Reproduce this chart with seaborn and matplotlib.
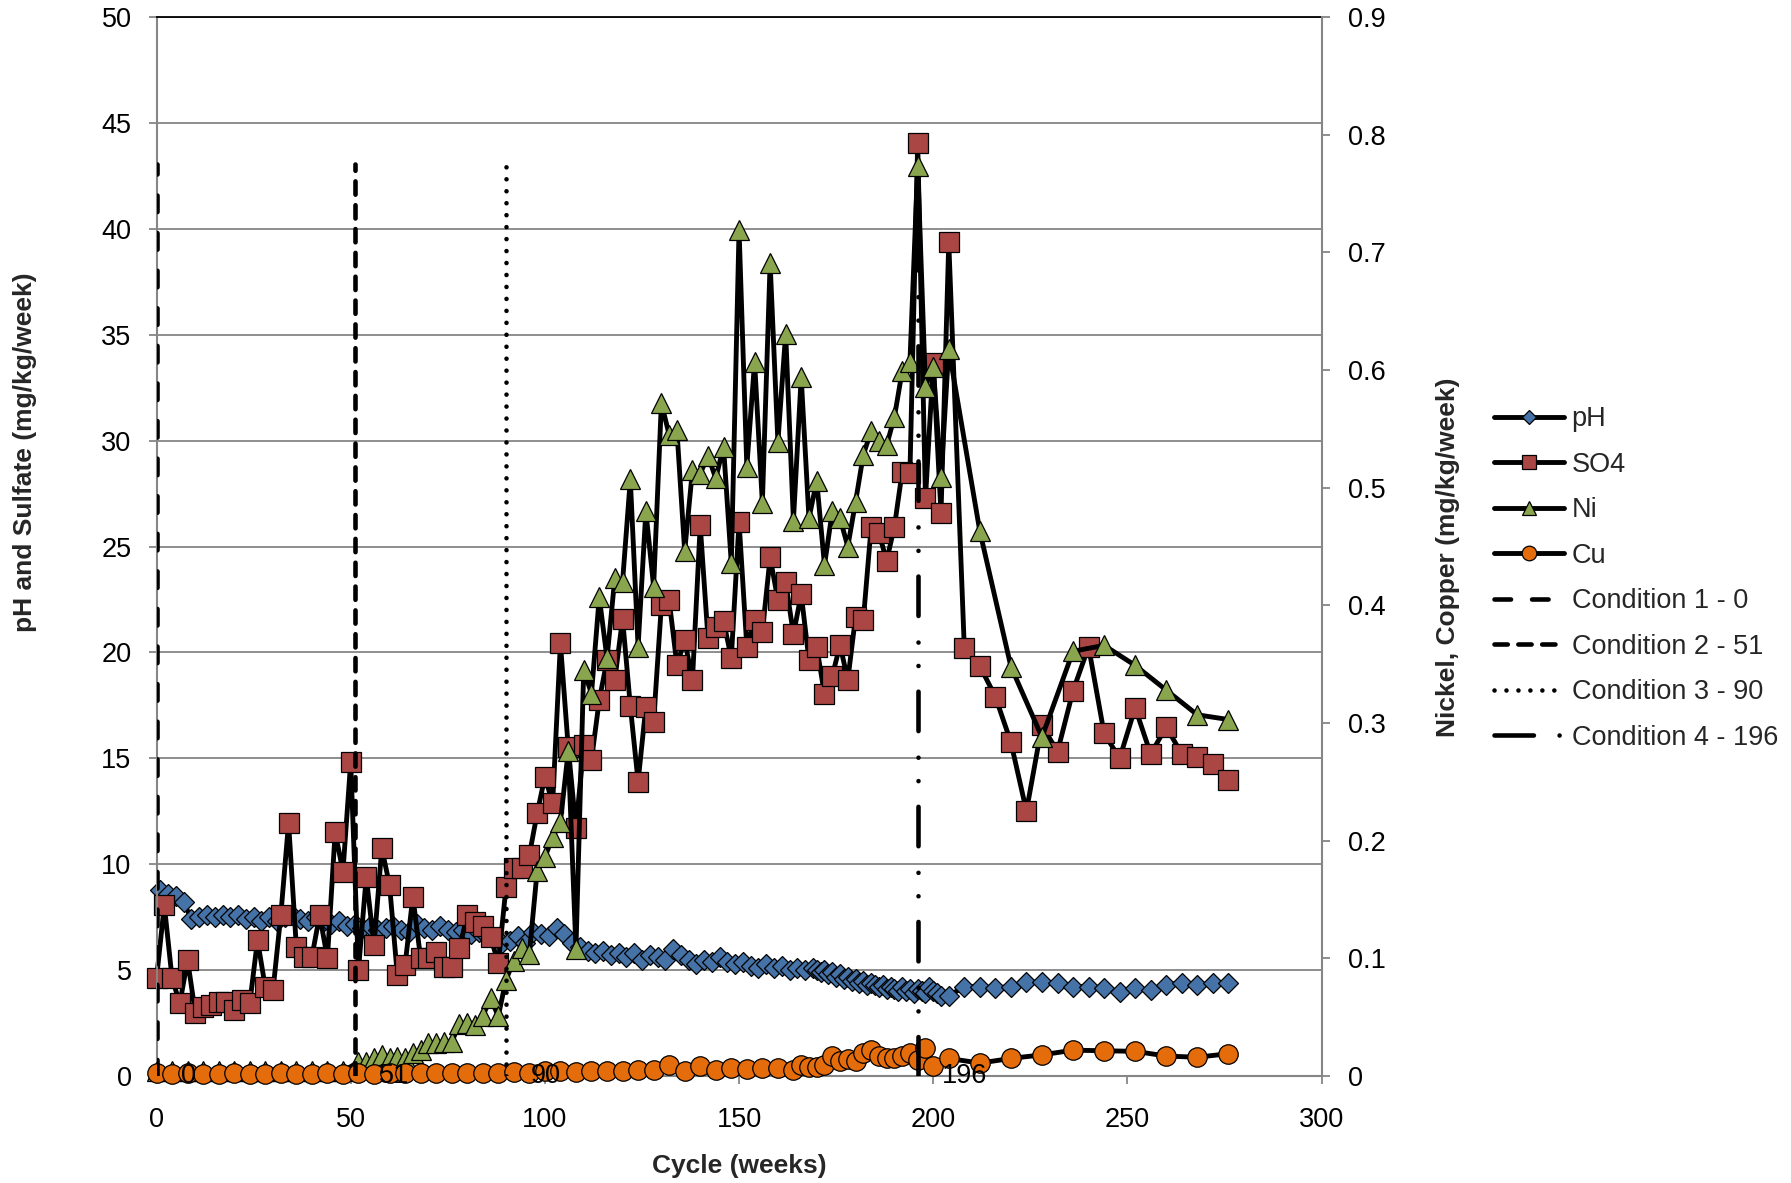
import numpy as np
import pandas as pd
import seaborn as sns
import matplotlib.pyplot as plt

###############################################################################
# Data
###############################################################################
ph_week = [
    1, 3, 5, 7, 9, 11, 13, 15, 17, 19, 21, 23, 25, 27, 29, 31, 33, 35, 37, 39,
    41, 43, 45, 47, 49, 51, 53, 55, 57, 59, 61, 63, 65, 67, 69, 71, 73, 75, 77,
    79, 81, 83, 85, 87, 89, 91, 93, 95, 97, 99, 101, 103, 105, 107, 109, 111,
    113, 115, 117, 119, 121, 123, 125, 127, 129, 131, 133, 135, 137, 139, 141,
    143, 145, 147, 149, 151, 153, 155, 157, 159, 161, 163, 165, 167, 169,
    170, 171, 172, 173, 174, 175, 176, 177, 178, 179, 180, 181, 182, 183, 184,
    185, 186, 187, 188, 189, 190, 191, 192, 193, 194, 195, 196, 197, 198, 199,
    200, 201, 202,
    204, 208, 212, 216, 220, 224, 228, 232, 236, 240, 244, 248, 252, 256, 260,
    264, 268, 272, 276
]
ph_val = [
    8.8, 8.6, 8.5, 8.2, 7.4, 7.5, 7.6, 7.5, 7.6, 7.5, 7.6, 7.4, 7.5, 7.3, 7.5,
    7.3, 7.5, 7.6, 7.4, 7.3, 7.5, 7.3, 7.2, 7.3, 7.1, 7.2, 7.0, 7.1, 6.9, 7.0,
    7.1, 6.9, 6.8, 7.2, 7.0, 6.9, 7.1, 6.9, 6.8, 6.9, 6.7, 6.8, 6.6, 6.5, 6.3,
    6.4, 6.6, 6.3, 6.8, 6.7, 6.6, 7.0, 6.7, 6.3, 6.1, 5.9, 5.8, 5.9, 5.7, 5.8,
    5.6, 5.8, 5.5, 5.7, 5.6, 5.5, 6.0, 5.7, 5.5, 5.3, 5.5, 5.4, 5.6, 5.4, 5.3,
    5.4, 5.2, 5.1, 5.3, 5.1, 5.2, 5.0, 5.1, 5.0, 5.1,
    5.0, 4.9, 5.0, 4.8, 4.9, 4.7, 4.8, 4.6, 4.7, 4.5, 4.6, 4.4, 4.5, 4.3, 4.4,
    4.3, 4.2, 4.3, 4.1, 4.2, 4.1, 4.0, 4.2, 4.0, 4.1, 3.9, 4.1, 4.0, 3.9, 4.2,
    4.0, 3.9, 3.8,
    3.79, 4.22, 4.22, 4.17, 4.22, 4.42, 4.45, 4.37, 4.22, 4.22, 4.14, 3.98,
    4.14, 4.06, 4.30, 4.41, 4.30, 4.37, 4.37
]

so4_week = [
    0, 2, 4, 6, 8, 10, 12, 14, 16, 18, 20, 22, 24, 26, 28, 30, 32, 34, 36, 38,
    40, 42, 44, 46, 48, 50, 52, 54, 56, 58, 60, 62, 64, 66, 68, 70, 72, 74, 76,
    78, 80, 82, 84, 86, 88, 90, 92, 94, 96, 98, 100, 102, 104, 106, 108, 110,
    112, 114, 116, 118, 120, 122, 124, 126, 128, 130, 132, 134, 136, 138, 140,
    142, 144, 146, 148, 150, 152, 154, 156, 158, 160, 162, 164, 166, 168, 170,
    172, 174, 176, 178, 180, 182, 184, 186, 188, 190, 192, 194, 196, 198, 200,
    202, 204,
    208, 212, 216, 220, 224, 228, 232, 236, 240, 244, 248, 252, 256, 260, 264,
    268, 272, 276
]
so4_val = [
    4.61, 8.07, 4.61, 3.43, 5.48, 2.96, 3.27, 3.35, 3.51, 3.51, 3.12, 3.59,
    3.43, 6.42, 4.2, 4.06, 7.6, 11.96, 6.1, 5.63, 5.63, 7.6, 5.56, 11.53, 9.65,
    14.84, 5.0, 9.41, 6.18, 10.75, 9.02, 4.77, 5.24, 8.47, 5.56, 5.56, 5.87,
    5.16, 5.16, 6.03, 7.6, 7.29, 7.08, 6.58, 5.32, 8.94, 9.8, 9.8, 10.43, 12.4,
    14.13, 12.88, 20.43, 15.55, 11.69, 15.63, 14.92, 17.75, 19.64, 18.7, 21.6,
    17.47, 13.9, 17.44, 16.73, 22.24, 22.47, 19.4, 20.59, 18.7, 26.0, 20.67,
    21.21, 21.5, 19.72, 26.17, 20.27, 21.53, 20.98, 24.49, 22.47, 23.34, 20.85,
    22.76, 19.64, 20.27, 18.02, 18.89, 20.35, 18.7, 21.69, 21.53, 25.9, 25.65,
    24.33, 25.93, 28.53, 28.48, 44.07, 27.27, 33.65, 26.57, 39.36,
    20.22, 19.36, 17.91, 15.76, 12.51, 16.57, 15.31, 18.19, 20.27, 16.18, 15.0,
    17.39, 15.2, 16.49, 15.2, 15.05, 14.72, 13.98
]

ni_week = [
    0, 4, 8, 12, 16, 20, 24, 28, 32, 36, 40, 44, 48,
    52, 54, 56, 58, 60, 62, 64, 66, 68, 70, 72, 74, 76, 78, 80, 82, 84, 86, 88,
    90, 92, 94, 96, 98, 100, 102, 104, 106, 108, 110, 112, 114, 116, 118, 120,
    122, 124, 126, 128, 130, 132, 134, 136, 138, 140, 142, 144, 146, 148, 150,
    152, 154, 156, 158, 160, 162, 164, 166, 168, 170, 172, 174, 176, 178, 180,
    182, 184, 186, 188, 190, 192, 194, 196, 198, 200, 202, 204,
    212, 220, 228, 236, 244, 252, 260, 268, 276
]
ni_val = [
    0.004, 0.004, 0.004, 0.004, 0.004, 0.004, 0.004, 0.004, 0.004, 0.004,
    0.004, 0.004, 0.004,
    0.012, 0.012, 0.015, 0.018, 0.015, 0.016, 0.015, 0.020, 0.022, 0.028,
    0.028, 0.029, 0.029, 0.044, 0.045, 0.043, 0.051, 0.066, 0.051, 0.082,
    0.098, 0.109, 0.104, 0.174, 0.186, 0.203, 0.216, 0.276, 0.108, 0.345,
    0.325, 0.407, 0.355, 0.423, 0.420, 0.507, 0.365, 0.480, 0.416, 0.572,
    0.545, 0.549, 0.446, 0.515, 0.512, 0.527, 0.508, 0.535, 0.436, 0.719,
    0.518, 0.607, 0.487, 0.691, 0.539, 0.631, 0.472, 0.594, 0.474, 0.506,
    0.434, 0.480, 0.474, 0.450, 0.488, 0.528, 0.548, 0.540, 0.536, 0.560,
    0.599, 0.607, 0.773, 0.586, 0.603, 0.509, 0.618,
    0.463, 0.348, 0.288, 0.361, 0.366, 0.349, 0.328, 0.307, 0.303
]

cu_week = [
    0, 4, 8, 12, 16, 20, 24, 28, 32, 36, 40, 44, 48, 52, 56, 60, 64, 68, 72,
    76, 80, 84, 88, 92, 96, 100, 104, 108, 112, 116, 120, 124, 128, 132, 136,
    140, 144, 148, 152, 156, 160, 164,
    166, 168, 170, 172, 174, 176, 178, 180, 182, 184, 186, 188, 190, 192, 194,
    196, 198, 200,
    204, 212, 220, 228, 236, 244, 252, 260, 268, 276
]
cu_val = [
    0.0025, 0.002, 0.0025, 0.002, 0.002, 0.0025, 0.002, 0.002, 0.0025, 0.002,
    0.002, 0.0025, 0.002, 0.0025, 0.002, 0.0025, 0.003, 0.003, 0.003, 0.003,
    0.003, 0.003, 0.003, 0.0035, 0.003, 0.0045, 0.0045, 0.0035, 0.004, 0.004,
    0.0045, 0.0055, 0.0055, 0.0096, 0.004, 0.0085, 0.005, 0.0065, 0.006,
    0.0071, 0.0065, 0.0055,
    0.0096, 0.0075, 0.008, 0.0096, 0.017, 0.013, 0.0145, 0.013, 0.0195, 0.022,
    0.017, 0.0156, 0.0156, 0.017, 0.0195, 0.014, 0.024, 0.0085,
    0.015, 0.011, 0.015, 0.018, 0.022, 0.0215, 0.021, 0.017, 0.016, 0.019
]

cond_week = [0, 51, 90, 196]
cond_top = [0.775, 0.775, 0.775, 0.775]
cond_name = ['Condition 1 - 0', 'Condition 2 - 51', 'Condition 3 - 90',
             'Condition 4 - 196']
cond_tag = ['0', '51', '90', '196']
cond_dash = [
    (0, (3.6, 4.6)),
    (0, (2.9, 2.3)),
    (0, (0.01, 2.6)),
    (0, (8.6, 5.6, 0.01, 5.1, 0.01, 5.8)),
]

###############################################################################
# Plot
###############################################################################
sns.set_theme(style='white')
plt.rcParams['font.family'] = ['Liberation Sans', 'DejaVu Sans']
GREY = '#868686'
FS = 19.5

fig = plt.figure(figsize=(17.91, 11.83), dpi=100)
ax = fig.add_axes([0.0874, 0.0904, 0.6505, 0.8952])
ax2 = ax.twinx()

kw = dict(color='black', linewidth=3.5, markeredgecolor='black',
          markeredgewidth=0.9, clip_on=False, legend=False,
          estimator=None, sort=False)
sns.lineplot(x=ph_week, y=ph_val, ax=ax, marker='D', markersize=10,
             markerfacecolor='#4572A7', label='pH', **kw)
sns.lineplot(x=so4_week, y=so4_val, ax=ax, marker='s', markersize=14,
             markerfacecolor='#AA4643', label='SO4', **kw)
sns.lineplot(x=ni_week, y=ni_val, ax=ax2, marker='^', markersize=14,
             markerfacecolor='#89A54E', label='Ni', **kw)
sns.lineplot(x=cu_week, y=cu_val, ax=ax2, marker='o', markersize=14,
             markerfacecolor='#E46C0A', label='Cu', **kw)

for wk, top, name, tag, ls in zip(cond_week, cond_top, cond_name, cond_tag,
                                  cond_dash):
    ax2.plot([wk, wk], [0, top], color='black', linewidth=3.3, linestyle=ls,
             dash_capstyle='round', label=name, zorder=5)
    ax2.text(wk + 6.3, 0, tag, ha='left', va='center', fontsize=FS,
             color='black', zorder=6)

# axes
ax.set_xlim(0, 300)
ax.set_ylim(0, 50)
ax2.set_ylim(0, 0.9)
ax.set_xticks(np.arange(0, 301, 50))
ax.set_yticks(np.arange(0, 51, 5))
ax2.set_yticks(np.round(np.arange(0, 0.91, 0.1), 1))
ax2.set_yticklabels(['0'] + ['%.1f' % v for v in np.arange(0.1, 0.91, 0.1)])

ax.yaxis.grid(True, color=GREY, linewidth=1.3)
ax.xaxis.grid(False)
ax.set_axisbelow(True)

for sp in ('left', 'bottom'):
    ax.spines[sp].set_color(GREY)
    ax.spines[sp].set_linewidth(1.5)
ax.spines['right'].set_visible(False)
ax.spines['top'].set_color('black')
ax.spines['top'].set_linewidth(1.3)
for sp in ('left', 'bottom', 'top'):
    ax2.spines[sp].set_visible(False)
ax2.spines['right'].set_color(GREY)
ax2.spines['right'].set_linewidth(1.5)

ax.tick_params(axis='y', left=True, direction='out', length=6, width=1.3,
               color=GREY, labelsize=FS, pad=12, labelcolor='black')
ax.tick_params(axis='x', bottom=True, direction='out', length=6, width=1.3,
               color=GREY, labelsize=FS, pad=16, labelcolor='black')
ax2.tick_params(axis='y', right=True, direction='out', length=6, width=1.3,
                color=GREY, labelsize=FS, pad=13, labelcolor='black')

ax.set_xlabel('Cycle (weeks)', fontsize=19, fontweight='bold')
ax.set_ylabel('pH and Sulfate (mg/kg/week)', fontsize=19, fontweight='bold')
ax2.set_ylabel('Nickel, Copper (mg/kg/week)', fontsize=19, fontweight='bold',
               rotation=90)
ax.xaxis.set_label_coords(0.5, -0.085)
ax.xaxis.label.set_va('center')
ax.yaxis.set_label_coords(-0.1129, 0.5895)
ax.yaxis.label.set_va('center')
ax2.yaxis.set_label_coords(1.1086, 0.49)
ax2.yaxis.label.set_va('center')

# legend
h1, l1 = ax.get_legend_handles_labels()
h2, l2 = ax2.get_legend_handles_labels()
fig.legend(h1 + h2, l1 + l2, loc='center left', bbox_to_anchor=(0.834, 0.511),
           frameon=False, fontsize=FS, handlelength=2.6, handletextpad=0.28,
           labelspacing=0.72, borderpad=0, borderaxespad=0, markerscale=0.75)

fig.savefig('out.png', dpi=100)
